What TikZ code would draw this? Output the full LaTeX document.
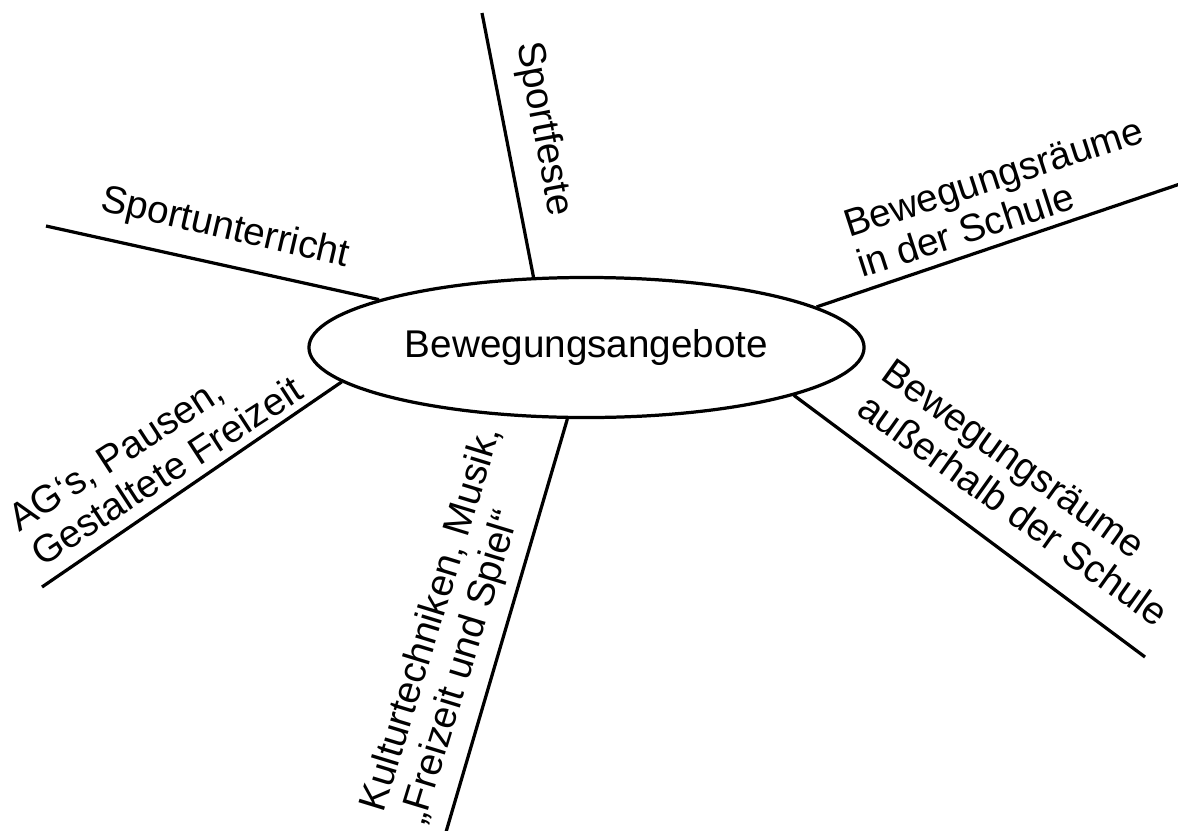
\documentclass[tikz,border=0pt]{standalone}
\usepackage{fontspec}
\setmainfont{Liberation Sans}
\usetikzlibrary{shapes.geometric}

\tikzset{
  hub/.style={draw, ellipse, line width=2.3pt, minimum width=13.875cm, minimum height=3.5cm, inner sep=0pt},
  spoke/.style={line width=2.3pt},
  lbl/.style={inner sep=0pt, anchor=base west, align=left},
}

\begin{document}
\begin{tikzpicture}[x=0.025cm, y=-0.025cm, font=\fontsize{27.5}{30}\selectfont]
                \useasboundingbox (0,0) rectangle (1178,830);
                \clip (0,0) rectangle (1178,830);
                \node[hub] (mid) at (586.5,347.5) {Bewegungsangebote};
                % outer ends of the spokes
                \coordinate (sf) at (482,13);
                \coordinate (su) at (46,226);
                \coordinate (bs) at (1180,184);
                \coordinate (ba) at (1145,657);
                \coordinate (kt) at (446,832);
                \coordinate (ag) at (42,587);
                \draw[spoke] (mid.127.6) -- (sf);
                \draw[spoke] (mid.167.8) -- (su);
                \draw[spoke] (mid.10.8) -- (bs);
                \draw[spoke] (mid.-13.7) -- (ba);
                \draw[spoke] (mid.-105.5) -- (kt);
                \draw[spoke] (mid.188.8) -- (ag);
                % labels
                \node[lbl, rotate=-79.3] (sfl) at (517,44) {Sportfeste};
                \node[lbl, rotate=-13] (sul) at (99,210) {Sportunterricht};
                \node[lbl, rotate=18] (bsl) at (862,278) {Bewegungsräume\\in der Schule};
                \node[lbl, rotate=-35.5] (bal) at (855,413) {Bewegungsräume\\außerhalb der Schule};
                \node[lbl, rotate=73] (ktl) at (424,826) {Kulturtechniken, Musik,\\„Freizeit und Spiel“};
                \node[lbl, rotate=33] (agl) at (42,568) {AG‘s, Pausen,\\Gestaltete Freizeit};
\end{tikzpicture}
\end{document}
